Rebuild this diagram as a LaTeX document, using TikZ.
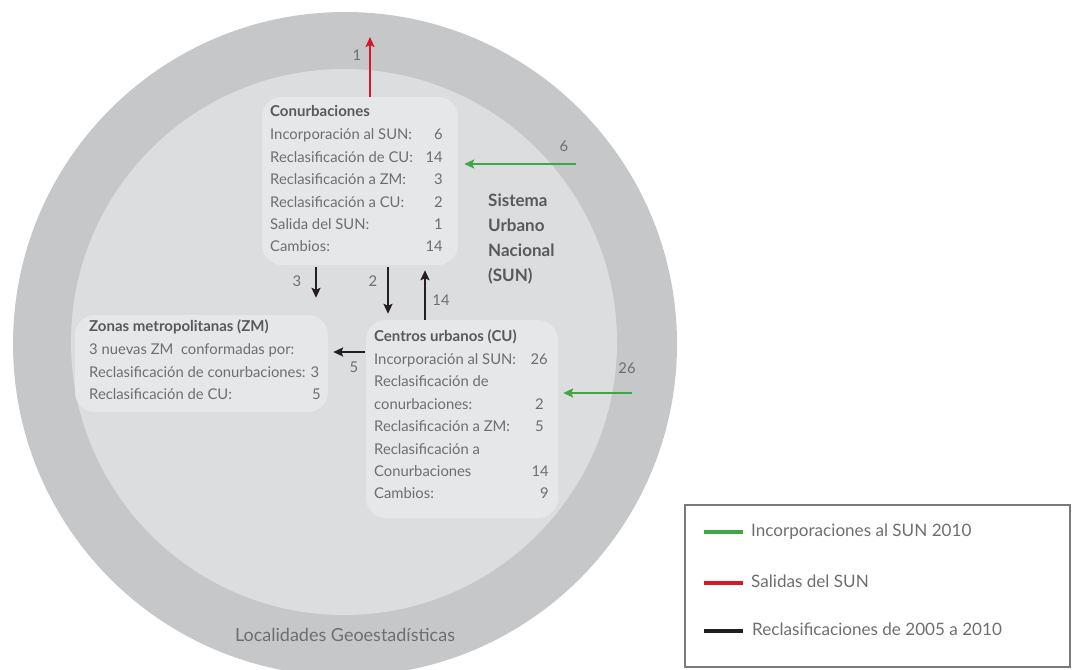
\documentclass[tikz,border=0pt]{standalone}
\usepackage{fontspec}
\setmainfont{Lato}
\usetikzlibrary{arrows.meta}
\definecolor{outerc}{HTML}{C6C7C9}
\definecolor{innerc}{HTML}{DCDDDF}
\definecolor{boxc}{HTML}{E6E7E8}
\definecolor{txt}{HTML}{6D6E71}
\definecolor{ttl}{HTML}{58595B}
\definecolor{grn}{HTML}{3FA845}
\definecolor{rd}{HTML}{D7182A}
\definecolor{blk}{HTML}{231F20}
\definecolor{leggray}{HTML}{7A7A7C}
\tikzset{
  box/.style={fill=boxc, rounded corners=20pt, inner sep=0pt},
  lbl/.style={text=txt, font=\fontsize{14.8}{17}\selectfont, inner sep=0pt, text height=11pt, text depth=3.5pt},
  titl/.style={lbl, text=ttl, font=\fontsize{15}{17}\selectfont\bfseries},
  sun/.style={titl, anchor=west, font=\fontsize{17}{19}\selectfont\bfseries, text height=12pt, text depth=4pt},
  num/.style={lbl, anchor=east},
  txtl/.style={lbl, anchor=west},
  arrowbase/.style={line width=2pt, -{Stealth[length=10pt,width=9pt,inset=2pt]}},
  garrow/.style={arrowbase, draw=grn},
  rarrow/.style={arrowbase, draw=rd},
  karrow/.style={arrowbase, draw=blk},
  legline/.style={line width=4pt},
  legtxt/.style={text=txt, font=\fontsize{17.1}{19}\selectfont, inner sep=0pt, anchor=west, text height=12pt, text depth=4pt},
}
\begin{document}
\begin{tikzpicture}[x=1pt,y=-1pt]
\useasboundingbox (0,0) rectangle (1072,670);
\begin{scope}
\clip (0,0) rectangle (1072,670);
\node[circle, fill=outerc, minimum size=664pt, inner sep=0pt] (outer) at (345,344) {};
\node[circle, fill=innerc, minimum size=546pt, inner sep=0pt] (inner) at (344,342) {};
\end{scope}

% boxes
\node[box, minimum width=196pt, minimum height=168pt] (conu) at (360,181) {};
\node[box, minimum width=253pt, minimum height=97pt] (zm) at (201.5,363.5) {};
\node[box, minimum width=192pt, minimum height=198pt] (cu) at (462,419) {};

% Conurbaciones text
\node[titl, anchor=west] (c0) at (270,113) {Conurbaciones};
\node[txtl] (c1) at (270,136) {Incorporación al SUN:};
\node[txtl] (c2) at (270,158.5) {Reclasificación de CU:};
\node[txtl] (c3) at (270,181) {Reclasificación a ZM:};
\node[txtl] (c4) at (270,203.5) {Reclasificación a CU:};
\node[txtl] (c5) at (270,226) {Salida del SUN:};
\node[txtl] (c6) at (270,248) {Cambios:};
\node[num] (cn1) at (443,136) {6};
\node[num] (cn2) at (443,158.5) {14};
\node[num] (cn3) at (443,181) {3};
\node[num] (cn4) at (443,203.5) {2};
\node[num] (cn5) at (443,226) {1};
\node[num] (cn6) at (443,248) {14};

% ZM text
\node[titl, anchor=west] (z0) at (89,328) {Zonas metropolitanas (ZM)};
\node[txtl] (z1) at (89,351) {3 nuevas ZM\ \ conformadas por:};
\node[txtl] (z2) at (89,373.5) {Reclasificación de conurbaciones: 3};
\node[txtl] (z3) at (89,396) {Reclasificación de CU:};
\node[num] (zn3) at (321,396) {5};

% CU text
\node[titl, anchor=west] (u0) at (374,338) {Centros urbanos (CU)};
\node[txtl] (u1) at (374,360.5) {Incorporación al SUN:};
\node[txtl] (u2) at (374,383) {Reclasificación de};
\node[txtl] (u3) at (374,405.5) {conurbaciones:};
\node[txtl] (u4) at (374,428) {Reclasificación a ZM:};
\node[txtl] (u5) at (374,450.5) {Reclasificación a};
\node[txtl] (u6) at (374,473) {Conurbaciones};
\node[txtl] (u7) at (374,495) {Cambios:};
\node[num] (un1) at (548,360.5) {26};
\node[num] (un3) at (544,405.5) {2};
\node[num] (un4) at (544,428) {5};
\node[num] (un6) at (549,473) {14};
\node[num] (un7) at (549,495) {9};

% Sistema Urbano Nacional
\node[sun] (s1) at (488,202) {Sistema};
\node[sun] (s2) at (488,227) {Urbano};
\node[sun] (s3) at (488,252) {Nacional};
\node[sun] (s4) at (488,277) {(SUN)};

% Localidades
\node[lbl, font=\fontsize{18}{20}\selectfont, text height=13pt, text depth=4pt] (loc) at (345,637) {Localidades Geoestadísticas};

% coordinates
\coordinate (rtop) at (370,37);
\coordinate (g1) at (576,164);
\coordinate (g2) at (632,393);
\coordinate (x316) at (316,0);
\coordinate (x388) at (388,0);
\coordinate (x425) at (425,0);
\coordinate (y352) at (0,352);

% arrows
\draw[rarrow] (conu.north -| rtop) -- (rtop);
\draw[garrow, shorten >=6pt] (g1) -- (g1 -| conu.east);
\draw[garrow, shorten >=5pt] (g2) -- (g2 -| cu.east);
\draw[karrow, shorten <=2pt, shorten >=17pt] (conu.south -| x316) -- (zm.north -| x316);
\draw[karrow, shorten <=2pt, shorten >=6pt] (conu.south -| x388) -- (cu.north -| x388);
\draw[karrow, shorten >=5pt] (cu.north -| x425) -- (conu.south -| x425);
\draw[karrow, shorten <=1pt, shorten >=5pt] (cu.west |- y352) -- (zm.east |- y352);

% arrow labels
\node[lbl] (l1) at (357,57) {1};
\node[lbl] (l6) at (564,148) {6};
\node[lbl] (l26) at (627,370) {26};
\node[lbl] (l3) at (297,283) {3};
\node[lbl] (l2) at (373,283) {2};
\node[lbl] (l14) at (441,302) {14};
\node[lbl] (l5) at (354,369) {5};

% legend
\node[draw=leggray, line width=2pt, minimum width=385pt, minimum height=162pt, inner sep=0pt] (leg) at (877,585.5) {};
\coordinate (la1) at (704,532);
\coordinate (lb1) at (743,532);
\coordinate (la2) at (704,583);
\coordinate (lb2) at (743,583);
\coordinate (la3) at (704,631);
\coordinate (lb3) at (743,631);
\draw[legline, draw=grn] (la1) -- (lb1);
\draw[legline, draw=rd] (la2) -- (lb2);
\draw[legline, draw=blk] (la3) -- (lb3);
\node[legtxt] (t1) at (751,532) {Incorporaciones al SUN 2010};
\node[legtxt] (t2) at (751,583) {Salidas del SUN};
\node[legtxt] (t3) at (752,631) {Reclasificaciones de 2005 a 2010};
\end{tikzpicture}
\end{document}
